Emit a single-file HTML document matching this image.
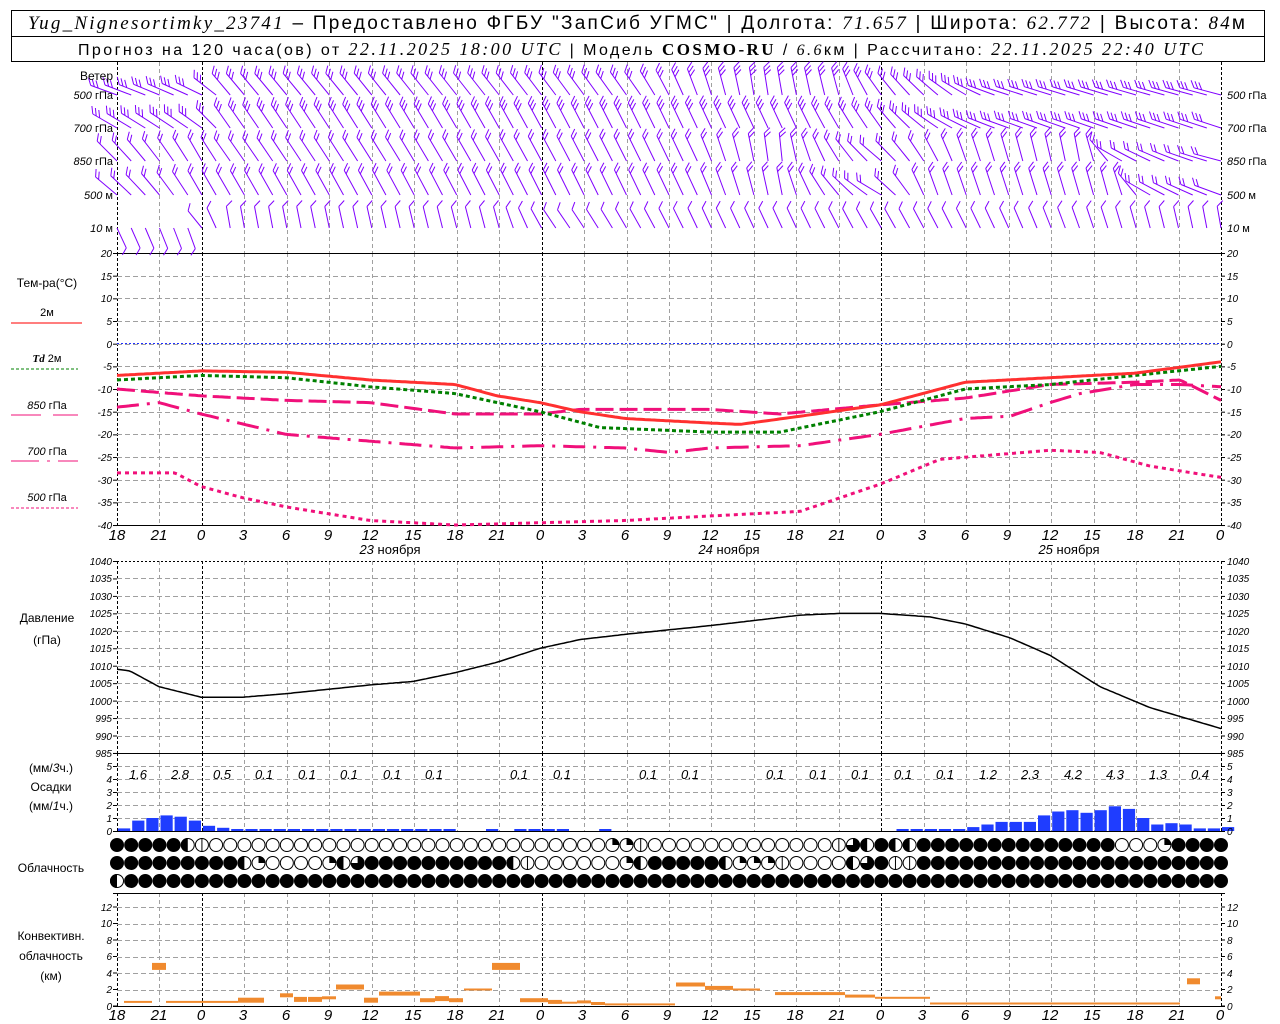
<!DOCTYPE html>
<html><head><meta charset="utf-8">
<style>
html,body{margin:0;padding:0;background:#fff;}
svg{display:block;}
text{font-family:"Liberation Sans",sans-serif;fill:#000;}
.i{font-style:italic;}
.s{font-family:"Liberation Serif",serif;font-style:italic;}
.tk{font-size:10px;font-style:italic;}
.tl{font-size:15px;font-style:italic;}
.lb{font-size:12px;}
</style></head><body>
<svg id="c" width="1280" height="1024" viewBox="0 0 1280 1024" xmlns="http://www.w3.org/2000/svg">
<rect width="1280" height="1024" fill="#fff"/>
<rect x="11.5" y="10.5" width="1253" height="51" fill="none" stroke="#000"/>
<line x1="11" y1="36.5" x2="1265" y2="36.5" stroke="#000"/>
<text x="28" y="29" font-size="19" textLength="1217" lengthAdjust="spacing"><tspan class="s">Yug_Nignesortimky_23741</tspan> – Предоставлено ФГБУ "ЗапСиб УГМС" | Долгота: <tspan class="s">71.657</tspan> | Широта: <tspan class="s">62.772</tspan> | Высота: <tspan class="s">84</tspan>м</text>
<text x="78" y="55" font-size="16" textLength="1125" lengthAdjust="spacing">Прогноз на 120 часа(ов) от <tspan class="s" font-size="18">22.11.2025 18:00 UTC</tspan>  | Модель <tspan font-family="Liberation Serif" font-weight="bold" font-size="17">COSMO-RU</tspan> / <tspan class="s">6.6</tspan>км | Рассчитано: <tspan class="s" font-size="18">22.11.2025 22:40 UTC</tspan></text>

<g id="grid"></g>
<g id="data"></g>

<text x="113" y="80" class="lb" text-anchor="end">Ветер</text>
<g font-size="11">
<text x="113" y="99" text-anchor="end"><tspan class="i">500</tspan> гПа</text>
<text x="113" y="132" text-anchor="end"><tspan class="i">700</tspan> гПа</text>
<text x="113" y="165" text-anchor="end"><tspan class="i">850</tspan> гПа</text>
<text x="113" y="199" text-anchor="end"><tspan class="i">500</tspan>  м</text>
<text x="113" y="232" text-anchor="end"><tspan class="i">10</tspan>   м</text>
<text x="1227" y="99"><tspan class="i">500</tspan> гПа</text>
<text x="1227" y="132"><tspan class="i">700</tspan> гПа</text>
<text x="1227" y="165"><tspan class="i">850</tspan> гПа</text>
<text x="1227" y="199"><tspan class="i">500</tspan>  м</text>
<text x="1227" y="232"><tspan class="i">10</tspan>   м</text>
</g>
<text x="47" y="287" class="lb" text-anchor="middle">Тем-ра(°C)</text>
<text x="47" y="316" font-size="11" text-anchor="middle">2м</text>
<line x1="11" y1="323" x2="82" y2="323" stroke="#ff3030" stroke-width="1.2"/>
<text x="47" y="362" font-size="11" text-anchor="middle"><tspan class="s" font-weight="bold">Td</tspan>  2м</text>
<line x1="11" y1="369" x2="78" y2="369" stroke="#008000" stroke-dasharray="3 2"/>
<text x="47" y="409" font-size="11" text-anchor="middle"><tspan class="i">850</tspan>  гПа</text>
<line x1="11" y1="415" x2="78" y2="415" stroke="#f0107a" stroke-dasharray="30 12"/>
<text x="47" y="455" font-size="11" text-anchor="middle"><tspan class="i">700</tspan>  гПа</text>
<line x1="11" y1="461" x2="78" y2="461" stroke="#f0107a" stroke-dasharray="28 8 3 8"/>
<text x="47" y="501" font-size="11" text-anchor="middle"><tspan class="i">500</tspan>  гПа</text>
<line x1="11" y1="508" x2="78" y2="508" stroke="#f0107a" stroke-dasharray="3 2"/>

<text x="47" y="622" class="lb" text-anchor="middle">Давление</text>
<text x="47" y="644" class="lb" text-anchor="middle">(гПа)</text>
<text x="51" y="772" class="lb" text-anchor="middle">(мм/<tspan class="i">3</tspan>ч.)</text>
<text x="51" y="791" class="lb" text-anchor="middle">Осадки</text>
<text x="51" y="810" class="lb" text-anchor="middle">(мм/<tspan class="i">1</tspan>ч.)</text>
<text x="51" y="872" class="lb" text-anchor="middle">Облачность</text>
<text x="51" y="940" class="lb" text-anchor="middle">Конвективн.</text>
<text x="51" y="960" class="lb" text-anchor="middle">облачность</text>
<text x="51" y="980" class="lb" text-anchor="middle">(км)</text>

<g class="tk" text-anchor="end">
<text x="112" y="257">20</text><text x="112" y="280">15</text><text x="112" y="302">10</text><text x="112" y="325">5</text><text x="112" y="348">0</text><text x="112" y="370">-5</text><text x="112" y="393">-10</text><text x="112" y="416">-15</text><text x="112" y="438">-20</text><text x="112" y="461">-25</text><text x="112" y="484">-30</text><text x="112" y="506">-35</text><text x="112" y="529">-40</text>
</g>
<g class="tk">
<text x="1227" y="257">20</text><text x="1227" y="280">15</text><text x="1227" y="302">10</text><text x="1227" y="325">5</text><text x="1227" y="348">0</text><text x="1227" y="370">-5</text><text x="1227" y="393">-10</text><text x="1227" y="416">-15</text><text x="1227" y="438">-20</text><text x="1227" y="461">-25</text><text x="1227" y="484">-30</text><text x="1227" y="506">-35</text><text x="1227" y="529">-40</text>
</g>
<g class="tk" text-anchor="end">
<text x="112" y="565">1040</text><text x="112" y="582">1035</text><text x="112" y="600">1030</text><text x="112" y="617">1025</text><text x="112" y="635">1020</text><text x="112" y="652">1015</text><text x="112" y="670">1010</text><text x="112" y="687">1005</text><text x="112" y="705">1000</text><text x="112" y="722">995</text><text x="112" y="740">990</text><text x="112" y="757">985</text>
</g>
<g class="tk">
<text x="1227" y="565">1040</text><text x="1227" y="582">1035</text><text x="1227" y="600">1030</text><text x="1227" y="617">1025</text><text x="1227" y="635">1020</text><text x="1227" y="652">1015</text><text x="1227" y="670">1010</text><text x="1227" y="687">1005</text><text x="1227" y="705">1000</text><text x="1227" y="722">995</text><text x="1227" y="740">990</text><text x="1227" y="757">985</text>
</g>
<g class="tk" text-anchor="end">
<text x="112" y="770">5</text><text x="112" y="783">4</text><text x="112" y="796">3</text><text x="112" y="809">2</text><text x="112" y="822">1</text><text x="112" y="835">0</text>
</g>
<g class="tk">
<text x="1227" y="770">5</text><text x="1227" y="783">4</text><text x="1227" y="796">3</text><text x="1227" y="809">2</text><text x="1227" y="822">1</text><text x="1227" y="835">0</text>
</g>
<g class="tk" text-anchor="end">
<text x="112" y="911">12</text><text x="112" y="927">10</text><text x="112" y="944">8</text><text x="112" y="960">6</text><text x="112" y="977">4</text><text x="112" y="993">2</text><text x="112" y="1010">0</text>
</g>
<g class="tk">
<text x="1227" y="911">12</text><text x="1227" y="927">10</text><text x="1227" y="944">8</text><text x="1227" y="960">6</text><text x="1227" y="977">4</text><text x="1227" y="993">2</text><text x="1227" y="1010">0</text>
</g>
<g class="i" font-size="13" text-anchor="middle">
<text x="138" y="779">1.6</text><text x="180" y="779">2.8</text><text x="222" y="779">0.5</text><text x="264" y="779">0.1</text><text x="307" y="779">0.1</text><text x="349" y="779">0.1</text><text x="392" y="779">0.1</text><text x="434" y="779">0.1</text><text x="519" y="779">0.1</text><text x="562" y="779">0.1</text><text x="648" y="779">0.1</text><text x="690" y="779">0.1</text><text x="775" y="779">0.1</text><text x="818" y="779">0.1</text><text x="860" y="779">0.1</text><text x="903" y="779">0.1</text><text x="945" y="779">0.1</text><text x="988" y="779">1.2</text><text x="1030" y="779">2.3</text><text x="1073" y="779">4.2</text><text x="1115" y="779">4.3</text><text x="1158" y="779">1.3</text><text x="1200" y="779">0.4</text>
</g>
<g font-size="13" text-anchor="middle">
<text x="390" y="554"><tspan class="i">23</tspan> ноября</text>
<text x="729" y="554"><tspan class="i">24</tspan> ноября</text>
<text x="1069" y="554"><tspan class="i">25</tspan> ноября</text>
</g>
<g class="tl" text-anchor="middle">
<text x="117" y="540">18</text><text x="159" y="540">21</text><text x="201" y="540">0</text><text x="243" y="540">3</text><text x="286" y="540">6</text><text x="328" y="540">9</text><text x="370" y="540">12</text><text x="413" y="540">15</text><text x="455" y="540">18</text><text x="497" y="540">21</text><text x="540" y="540">0</text><text x="582" y="540">3</text><text x="625" y="540">6</text><text x="667" y="540">9</text><text x="710" y="540">12</text><text x="752" y="540">15</text><text x="795" y="540">18</text><text x="837" y="540">21</text><text x="880" y="540">0</text><text x="922" y="540">3</text><text x="965" y="540">6</text><text x="1007" y="540">9</text><text x="1050" y="540">12</text><text x="1092" y="540">15</text><text x="1135" y="540">18</text><text x="1177" y="540">21</text><text x="1220" y="540">0</text>
<text x="117" y="1020">18</text><text x="159" y="1020">21</text><text x="201" y="1020">0</text><text x="243" y="1020">3</text><text x="286" y="1020">6</text><text x="328" y="1020">9</text><text x="370" y="1020">12</text><text x="413" y="1020">15</text><text x="455" y="1020">18</text><text x="497" y="1020">21</text><text x="540" y="1020">0</text><text x="582" y="1020">3</text><text x="625" y="1020">6</text><text x="667" y="1020">9</text><text x="710" y="1020">12</text><text x="752" y="1020">15</text><text x="795" y="1020">18</text><text x="837" y="1020">21</text><text x="880" y="1020">0</text><text x="922" y="1020">3</text><text x="965" y="1020">6</text><text x="1007" y="1020">9</text><text x="1050" y="1020">12</text><text x="1092" y="1020">15</text><text x="1135" y="1020">18</text><text x="1177" y="1020">21</text><text x="1220" y="1020">0</text>
</g>
</svg>
<script>
(function(){
var NS="http://www.w3.org/2000/svg";
var G=document.getElementById("grid"),D=document.getElementById("data");
function el(p,t,a){var e=document.createElementNS(NS,t);for(var k in a)e.setAttribute(k,a[k]);p.appendChild(e);return e;}
function ln(p,x1,y1,x2,y2,a){a=a||{};a.x1=x1;a.y1=y1;a.x2=x2;a.y2=y2;return el(p,"line",a);}
var L=117,R=1221,S=(R-L)/78;
function X(h){return L+h*S;}
var panels=[[62,253],[253,525],[561,753],[753,831],[893,1006]];
for(var h=0;h<=78;h+=3){
  var x=Math.round(X(h))+0.5, day=((h-6)%24===0)||h===0||h===78;
  panels.forEach(function(p){
    ln(G,x,p[0],x,p[1],{stroke:day?"#000":"#a0a0a0","stroke-dasharray":day?"3 2":"4 3","stroke-width":1});
  });
}
function hg(y0,y1,step){for(var y=y0;y<=y1+0.1;y+=step){ln(G,L,Math.round(y)+0.5,R,Math.round(y)+0.5,{stroke:"#a0a0a0","stroke-dasharray":"5 3"});}}
hg(253+22.67,525-22,22.67);
hg(561+17.45,753-10,17.45);
hg(766,830,13);
hg(907,1000,16.5);
ln(G,L,343.5,R,343.5,{stroke:"#2030ff","stroke-dasharray":"2 2"});
[[253.5],[525.5],[753.5],[831.5],[893.5],[1006.5]].forEach(function(y){ln(G,L-4,y[0],R+4,y[0],{stroke:"#000"});});
ln(G,L,561.5,R,561.5,{stroke:"#000","stroke-dasharray":"2 2"});
function ticks(ys){ys.forEach(function(y){ln(G,L-4,y,L,y,{stroke:"#000"});ln(G,R,y,R+4,y,{stroke:"#000"});});}
var t=[];for(var i=0;i<13;i++)t.push(253.5+i*22.67);ticks(t);
t=[];for(i=0;i<12;i++)t.push(561.5+i*17.45);ticks(t);
t=[];for(i=0;i<6;i++)t.push(766.5+i*13);ticks(t);
t=[];for(i=0;i<7;i++)t.push(907+i*16.5);ticks(t);

function interp(kf,x){if(x<=kf[0][0])return kf[0][1];for(var i=1;i<kf.length;i++){if(x<=kf[i][0]){var a=kf[i-1],b=kf[i];return a[1]+(b[1]-a[1])*(x-a[0])/(b[0]-a[0]);}}return kf[kf.length-1][1];}
function curve(kf,fy,attrs){var d="";for(var x=L;x<=R;x+=3){d+=(x===L?"M":"L")+x+","+fy(interp(kf,x)).toFixed(1);}attrs.d=d;attrs.fill="none";el(D,"path",attrs);}
var TY=function(v){return 343.7-v*4.533;};
curve([[117,-28.5],[175,-28.5],[201,-31.5],[243,-34],[286,-36],[370,-39],[455,-40],[540,-39.5],[625,-39],[710,-38],[800,-37],[880,-31],[940,-25.5],[1050,-23.5],[1100,-24],[1150,-27],[1221,-29.5]],TY,{stroke:"#f0107a","stroke-width":3,"stroke-dasharray":"4 4"});
curve([[117,-14],[159,-13],[201,-15.5],[286,-20],[370,-21.5],[455,-23],[540,-22.5],[625,-23],[670,-24],[710,-23],[800,-22.5],[880,-20],[965,-16.5],[1010,-16],[1050,-13],[1080,-11],[1135,-9],[1180,-9],[1221,-9.5]],TY,{stroke:"#f0107a","stroke-width":3,"stroke-dasharray":"22 8 3 8"});
curve([[117,-10],[201,-11.5],[286,-12.5],[370,-13],[455,-15.5],[540,-15.5],[580,-14.5],[710,-14.5],[780,-15.5],[880,-13.5],[965,-12],[1050,-9],[1135,-8.5],[1180,-8],[1221,-12.5]],TY,{stroke:"#f0107a","stroke-width":3,"stroke-dasharray":"18 6"});
curve([[117,-8],[201,-7],[286,-7.5],[370,-9.5],[455,-11],[540,-15],[600,-18.5],[710,-19.5],[780,-19.5],[880,-15],[965,-10],[1050,-9],[1135,-7],[1221,-5]],TY,{stroke:"#008000","stroke-width":3,"stroke-dasharray":"4 3"});
curve([[117,-7],[201,-6],[286,-6.3],[370,-8],[455,-9],[497,-11.5],[540,-13],[580,-15],[625,-16.5],[710,-17.5],[740,-17.8],[800,-16],[880,-13.5],[965,-8.5],[1050,-7.5],[1135,-6.5],[1221,-4]],TY,{stroke:"#ff3030","stroke-width":3});
curve([[117,1009],[130,1008.5],[159,1004],[201,1001],[243,1001],[286,1002],[370,1004.5],[413,1005.5],[455,1008],[497,1011],[540,1015],[580,1017.5],[625,1019],[710,1021.5],[800,1024.5],[840,1025],[880,1025],[930,1024],[965,1022],[1010,1018],[1050,1013],[1100,1004],[1150,998],[1221,992]],function(p){return 753-(p-985)*3.49;},{stroke:"#000","stroke-width":1.5});
var pr=[0.2,0.8,1.0,1.2,1.1,0.8,0.4,0.25,0.15,0.05,0.05,0.1,0.1,0.1,0.1,0.05,0.05,0.05,0.1,0.1,0.1,0.1,0.1,0.1,0,0,0.05,0,0.05,0.05,0.05,0.05,0,0,0.05,0,0,0,0,0,0,0,0,0,0,0,0,0,0,0,0,0,0,0,0,0.05,0.05,0.1,0.1,0.1,0.3,0.5,0.7,0.7,0.7,1.2,1.5,1.6,1.4,1.6,1.9,1.7,1.0,0.5,0.6,0.5,0.2,0.2,0.3];
for(i=0;i<pr.length;i++){if(pr[i]<=0)continue;var hh=Math.max(2,pr[i]*13);el(D,"rect",{x:(X(i)+1).toFixed(1),y:(831-hh).toFixed(1),width:(S-2).toFixed(1),height:hh.toFixed(1),fill:"#1f3dff"});}
var cv=[[124,152,0.5,2],[152,166,4.8,7],[166,238,0.5,2],[238,264,0.7,5],[280,293,1.3,4],[294,307,0.8,5],[308,322,0.8,5],[322,336,1,3],[336,364,2.3,5],[364,378,0.7,5],[379,420,1.5,4],[420,435,0.7,4],[435,449,0.9,5],[449,463,0.7,4],[464,492,2,2],[492,520,4.8,7],[520,535,0.7,4],[535,548,0.7,4],[548,562,0.5,4],[562,577,0.4,2],[577,591,0.5,3],[591,605,0.3,3],[605,675,0.2,2],[676,705,2.6,4],[705,733,2.2,4],[733,760,2.0,2],[775,845,1.5,3],[845,875,1.2,3],[875,930,1.0,2],[930,1180,0.3,2],[1187,1200,3.0,6],[1215,1221,1.0,3]];
cv.forEach(function(c){var y=1006-c[2]*8.25;el(D,"rect",{x:c[0],y:(y-c[3]/2).toFixed(1),width:c[1]-c[0],height:c[3],fill:"#f08a2e"});});
var rows=[
"FFFFFHVEEEEEEEEEEEEEEEEEEEEEEEEEEEEQQVEEEEEEEEEEEEEVTHFHHFFFFFFFFFFFFFFEEEQFFFF",
"FFFFFFFFFHQEEEEQHTFFFFFFFFFFHVEEEEEEQHFFFFFHQQQVEEEEHTFVVFFFFFFFFFFFFFFFFFFFFFF",
"HFFFFFFFFFFFFFFFFFFFFFFFFFFFFFFFFFFFFFFFFFFFFFFFFFFFFFFFFFFFFFFFFFFFFFFFFFFFFFF"];
var ry=[845,863,881],r=7;
rows.forEach(function(s,ri){for(var i=0;i<=78;i++){var cx=X(i),cy=ry[ri],c=s[i]||"F";
 if(c==="F"){el(D,"circle",{cx:cx,cy:cy,r:r,fill:"#000"});continue;}
 el(D,"circle",{cx:cx,cy:cy,r:r-0.5,fill:"#fff",stroke:"#000","stroke-width":1});
 if(c==="H")el(D,"path",{d:"M"+cx+","+(cy-r)+"A"+r+","+r+" 0 0,0 "+cx+","+(cy+r)+"Z",fill:"#000"});
 if(c==="V")ln(D,cx,cy-r,cx,cy+r,{stroke:"#000"});
 if(c==="Q")el(D,"path",{d:"M"+cx+","+cy+"L"+cx+","+(cy-r)+"A"+r+","+r+" 0 0,1 "+(cx+r)+","+cy+"Z",fill:"#000"});
 if(c==="T")el(D,"path",{d:"M"+cx+","+cy+"L"+cx+","+(cy-r)+"A"+r+","+r+" 0 1,1 "+(cx-r)+","+cy+"Z",fill:"#000"});
}});
var W=[
 [95,28,[[117,-70],[201,-65],[230,-40],[500,-38],[640,-35],[700,-20],[760,-8],[840,-15],[880,-35],[940,-50],[1000,-72],[1221,-75]],3],
 [128,28,[[117,-60],[201,-55],[230,-35],[700,-25],[800,-25],[880,-35],[950,-60],[1000,-70],[1221,-72]],3],
 [161,28,[[117,-45],[201,-30],[230,-35],[700,-25],[780,-5],[880,-50],[960,-20],[1090,-10],[1120,-60],[1221,-75]],2],
 [195,28,[[117,-50],[201,-30],[230,-30],[700,-25],[780,-10],[880,-60],[930,-20],[1120,-15],[1150,-60],[1221,-70]],2],
 [228,22,[[117,155],[190,160],[201,-40],[230,-10],[500,-15],[560,-35],[700,-25],[800,-25],[880,-30],[1000,-25],[1221,-10]],1]
];
W.forEach(function(w){var y=w[0],len=w[1];for(var i=0;i<=78;i++){var x=X(i),a=interp(w[2],x)*Math.PI/180;
 var dx=Math.sin(a),dy=-Math.cos(a),tx=x+len*dx,ty=y+len*dy;
 ln(D,x.toFixed(1),y,tx.toFixed(1),ty.toFixed(1),{stroke:"#8000ff","stroke-width":1});
 var b=a+Math.PI*0.3,bx=Math.sin(b),by=-Math.cos(b);
 for(var k=0;k<w[3];k++){var px=tx-dx*k*4,py=ty-dy*k*4;ln(D,px.toFixed(1),py.toFixed(1),(px+bx*8).toFixed(1),(py+by*8).toFixed(1),{stroke:"#8000ff","stroke-width":1});}
}});
})();
</script>
</body></html>
